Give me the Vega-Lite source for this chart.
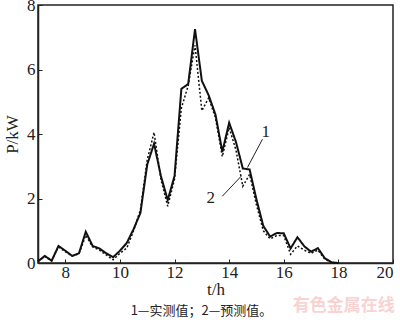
{
  "$schema": "https://vega.github.io/schema/vega-lite/v6.json",
  "width": 355,
  "height": 258,
  "autosize": "none",
  "padding": {"left": 38, "top": 5, "right": 7, "bottom": 57},
  "background": "white",
  "config": {
    "view": {"stroke": "#222", "strokeWidth": 1.5},
    "font": "Liberation Serif"
  },
  "title": {
    "text": "1—实测值；2—预测值。",
    "orient": "bottom",
    "anchor": "middle",
    "font": "Noto Sans CJK SC",
    "fontSize": 13,
    "fontWeight": "normal",
    "color": "#222",
    "offset": -9,
    "dx": -14
  },
  "datasets": {
    "series": [
      {"t": 7.00, "P": 0.05, "s": "实测值"},
      {"t": 7.25, "P": 0.22, "s": "实测值"},
      {"t": 7.50, "P": 0.07, "s": "实测值"},
      {"t": 7.75, "P": 0.53, "s": "实测值"},
      {"t": 8.00, "P": 0.38, "s": "实测值"},
      {"t": 8.25, "P": 0.22, "s": "实测值"},
      {"t": 8.50, "P": 0.30, "s": "实测值"},
      {"t": 8.75, "P": 0.97, "s": "实测值"},
      {"t": 9.00, "P": 0.53, "s": "实测值"},
      {"t": 9.25, "P": 0.45, "s": "实测值"},
      {"t": 9.50, "P": 0.30, "s": "实测值"},
      {"t": 9.75, "P": 0.18, "s": "实测值"},
      {"t": 10.00, "P": 0.38, "s": "实测值"},
      {"t": 10.25, "P": 0.62, "s": "实测值"},
      {"t": 10.50, "P": 1.05, "s": "实测值"},
      {"t": 10.75, "P": 1.55, "s": "实测值"},
      {"t": 11.00, "P": 3.05, "s": "实测值"},
      {"t": 11.25, "P": 3.70, "s": "实测值"},
      {"t": 11.50, "P": 2.70, "s": "实测值"},
      {"t": 11.75, "P": 1.95, "s": "实测值"},
      {"t": 12.00, "P": 2.70, "s": "实测值"},
      {"t": 12.25, "P": 5.40, "s": "实测值"},
      {"t": 12.50, "P": 5.55, "s": "实测值"},
      {"t": 12.75, "P": 7.25, "s": "实测值"},
      {"t": 13.00, "P": 5.65, "s": "实测值"},
      {"t": 13.25, "P": 5.20, "s": "实测值"},
      {"t": 13.50, "P": 4.60, "s": "实测值"},
      {"t": 13.75, "P": 3.45, "s": "实测值"},
      {"t": 14.00, "P": 4.35, "s": "实测值"},
      {"t": 14.25, "P": 3.75, "s": "实测值"},
      {"t": 14.50, "P": 2.93, "s": "实测值"},
      {"t": 14.75, "P": 2.90, "s": "实测值"},
      {"t": 15.00, "P": 1.97, "s": "实测值"},
      {"t": 15.25, "P": 1.15, "s": "实测值"},
      {"t": 15.50, "P": 0.82, "s": "实测值"},
      {"t": 15.75, "P": 0.93, "s": "实测值"},
      {"t": 16.00, "P": 0.92, "s": "实测值"},
      {"t": 16.25, "P": 0.45, "s": "实测值"},
      {"t": 16.50, "P": 0.80, "s": "实测值"},
      {"t": 16.75, "P": 0.52, "s": "实测值"},
      {"t": 17.00, "P": 0.35, "s": "实测值"},
      {"t": 17.25, "P": 0.46, "s": "实测值"},
      {"t": 17.50, "P": 0.15, "s": "实测值"},
      {"t": 17.75, "P": 0.02, "s": "实测值"},
      {"t": 18.00, "P": 0.00, "s": "实测值"},
      {"t": 7.00, "P": 0.05, "s": "预测值"},
      {"t": 7.25, "P": 0.20, "s": "预测值"},
      {"t": 7.50, "P": 0.07, "s": "预测值"},
      {"t": 7.75, "P": 0.50, "s": "预测值"},
      {"t": 8.00, "P": 0.35, "s": "预测值"},
      {"t": 8.25, "P": 0.22, "s": "预测值"},
      {"t": 8.50, "P": 0.28, "s": "预测值"},
      {"t": 8.75, "P": 0.86, "s": "预测值"},
      {"t": 9.00, "P": 0.50, "s": "预测值"},
      {"t": 9.25, "P": 0.40, "s": "预测值"},
      {"t": 9.50, "P": 0.25, "s": "预测值"},
      {"t": 9.75, "P": 0.10, "s": "预测值"},
      {"t": 10.00, "P": 0.30, "s": "预测值"},
      {"t": 10.25, "P": 0.46, "s": "预测值"},
      {"t": 10.50, "P": 1.00, "s": "预测值"},
      {"t": 10.75, "P": 1.65, "s": "预测值"},
      {"t": 11.00, "P": 3.20, "s": "预测值"},
      {"t": 11.25, "P": 4.05, "s": "预测值"},
      {"t": 11.50, "P": 2.60, "s": "预测值"},
      {"t": 11.75, "P": 1.76, "s": "预测值"},
      {"t": 12.00, "P": 2.60, "s": "预测值"},
      {"t": 12.25, "P": 4.80, "s": "预测值"},
      {"t": 12.50, "P": 5.50, "s": "预测值"},
      {"t": 12.75, "P": 6.75, "s": "预测值"},
      {"t": 13.00, "P": 4.72, "s": "预测值"},
      {"t": 13.25, "P": 5.12, "s": "预测值"},
      {"t": 13.50, "P": 4.50, "s": "预测值"},
      {"t": 13.75, "P": 3.30, "s": "预测值"},
      {"t": 14.00, "P": 4.20, "s": "预测值"},
      {"t": 14.25, "P": 3.50, "s": "预测值"},
      {"t": 14.50, "P": 2.38, "s": "预测值"},
      {"t": 14.75, "P": 2.75, "s": "预测值"},
      {"t": 15.00, "P": 1.80, "s": "预测值"},
      {"t": 15.25, "P": 1.00, "s": "预测值"},
      {"t": 15.50, "P": 0.75, "s": "预测值"},
      {"t": 15.75, "P": 0.85, "s": "预测值"},
      {"t": 16.00, "P": 0.85, "s": "预测值"},
      {"t": 16.25, "P": 0.27, "s": "预测值"},
      {"t": 16.50, "P": 0.53, "s": "预测值"},
      {"t": 16.75, "P": 0.40, "s": "预测值"},
      {"t": 17.00, "P": 0.30, "s": "预测值"},
      {"t": 17.25, "P": 0.40, "s": "预测值"},
      {"t": 17.50, "P": 0.12, "s": "预测值"},
      {"t": 17.75, "P": 0.02, "s": "预测值"},
      {"t": 18.00, "P": 0.00, "s": "预测值"}
    ],
    "leaders": [
      {"t": 15.22, "P": 3.84, "t2": 14.67, "P2": 2.96},
      {"t": 13.75, "P": 2.07, "t2": 14.45, "P2": 2.70}
    ],
    "labels": [
      {"t": 15.34, "P": 4.06, "label": "1"},
      {"t": 13.33, "P": 2.03, "label": "2"}
    ],
    "mark": [
      {"t": 18.2, "P": -1.33, "label": "有色金属在线"}
    ]
  },
  "layer": [
    {
      "data": {"name": "series"},
      "mark": {"type": "line", "strokeJoin": "miter"},
      "encoding": {
        "x": {
          "field": "t", "type": "quantitative",
          "scale": {"domain": [7, 20], "nice": false, "zero": false},
          "axis": {
            "title": "t/h", "values": [8, 10, 12, 14, 16, 18, 20],
            "grid": false, "tickSize": -4, "tickColor": "#222", "domainColor": "#222", "domainWidth": 1.5,
            "labelFont": "Liberation Serif, Times New Roman, serif", "labelFontSize": 17, "labelColor": "#222", "labelPadding": 5,
            "titleFont": "Liberation Serif, Times New Roman, serif", "titleFontSize": 17, "titleFontWeight": "normal", "titleColor": "#222", "titlePadding": 1
          }
        },
        "y": {
          "field": "P", "type": "quantitative",
          "scale": {"domain": [0, 8], "nice": false},
          "axis": {
            "title": "P/kW", "values": [0, 2, 4, 6, 8],
            "grid": false, "tickSize": -4, "tickColor": "#222", "domainColor": "#222", "domainWidth": 1.5,
            "labelFont": "Liberation Serif, Times New Roman, serif", "labelFontSize": 17, "labelColor": "#222", "labelPadding": 7,
            "titleFont": "Liberation Serif, Times New Roman, serif", "titleFontSize": 17, "titleFontWeight": "normal", "titleColor": "#222", "titlePadding": 5
          }
        },
        "strokeDash": {
          "field": "s", "type": "nominal",
          "scale": {"domain": ["实测值", "预测值"], "range": [[1, 0], [2, 2]]},
          "legend": null
        },
        "strokeWidth": {
          "field": "s", "type": "nominal",
          "scale": {"domain": ["实测值", "预测值"], "range": [2, 1.5]},
          "legend": null
        },
        "color": {
          "field": "s", "type": "nominal",
          "scale": {"domain": ["实测值", "预测值"], "range": ["#111", "#111"]},
          "legend": null
        }
      }
    },
    {
      "data": {"name": "leaders"},
      "mark": {"type": "rule", "color": "#222", "strokeWidth": 1},
      "encoding": {
        "x": {"field": "t", "type": "quantitative"},
        "y": {"field": "P", "type": "quantitative"},
        "x2": {"field": "t2"},
        "y2": {"field": "P2"}
      }
    },
    {
      "data": {"name": "labels"},
      "mark": {"type": "text", "font": "Liberation Serif, Times New Roman, serif", "fontSize": 17, "color": "#222"},
      "encoding": {
        "x": {"field": "t", "type": "quantitative"},
        "y": {"field": "P", "type": "quantitative"},
        "text": {"field": "label"}
      }
    },
    {
      "data": {"name": "mark"},
      "mark": {"type": "text", "font": "Noto Sans CJK SC", "fontSize": 17, "fontWeight": "bold", "color": "#f9d2d2", "clip": false},
      "encoding": {
        "x": {"field": "t", "type": "quantitative"},
        "y": {"field": "P", "type": "quantitative"},
        "text": {"field": "label"}
      }
    }
  ]
}
